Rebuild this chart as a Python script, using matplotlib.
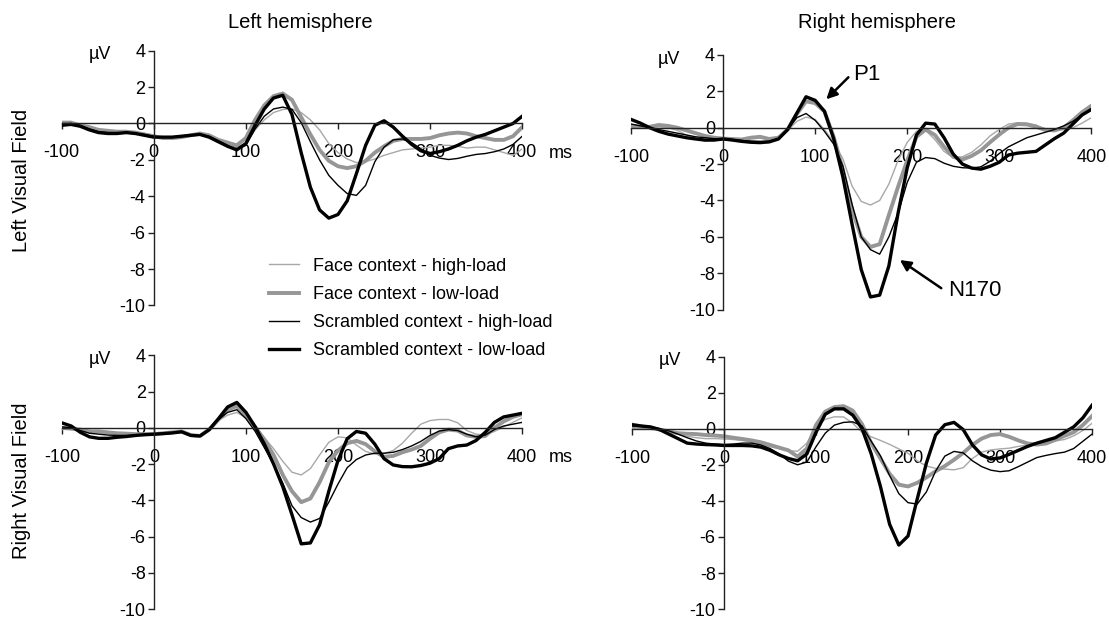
import matplotlib
matplotlib.use("Agg")
import matplotlib.pyplot as plt
from matplotlib.lines import Line2D

plt.rcParams["font.family"] = ["Liberation Sans", "DejaVu Sans"]
plt.rcParams["axes.unicode_minus"] = False

# Time axis (ms) and tick values
times = list(range(-100, 401, 10))
xticks = [-100, 0, 100, 200, 300, 400]
yticks = [-10, -8, -6, -4, -2, 0, 2, 4]

conditions = ["Face context - high-load", "Face context - low-load",
              "Scrambled context - high-load", "Scrambled context - low-load"]

# Left hemisphere, left visual field (uV)
lh_lvf_face_high = [0.0, 0.0, -0.1, -0.2, -0.4, -0.45, -0.5, -0.5, -0.55, -0.6, -0.7, -0.75, -0.75, -0.7, -0.65,
                    -0.6, -0.7, -0.9, -1.1, -1.3, -1.1, -0.35, 0.2, 0.6, 0.77, 0.8, 0.6, 0.2, -0.35, -1.1, -1.6,
                    -1.95, -2.15, -2.1, -1.95, -1.75, -1.6, -1.45, -1.4, -1.35, -1.3, -1.2, -1.2, -1.25, -1.35,
                    -1.3, -1.3, -1.45, -1.6, -1.75, -1.4]
lh_lvf_face_low = [0.05, 0.05, -0.1, -0.2, -0.35, -0.4, -0.45, -0.45, -0.5, -0.6, -0.7, -0.8, -0.8, -0.75, -0.65,
                   -0.55, -0.65, -0.9, -1.05, -1.2, -0.8, 0.2, 1.0, 1.5, 1.65, 1.3, 0.35, -0.6, -1.45, -2.05, -2.35,
                   -2.45, -2.35, -2.05, -1.6, -1.25, -0.95, -0.85, -0.85, -0.85, -0.8, -0.65, -0.55, -0.5, -0.55,
                   -0.7, -0.8, -0.9, -0.9, -0.7, -0.2]
lh_lvf_scr_high = [0.0, 0.0, -0.1, -0.3, -0.45, -0.5, -0.5, -0.5, -0.55, -0.6, -0.7, -0.75, -0.75, -0.7, -0.65,
                   -0.6, -0.7, -0.95, -1.2, -1.45, -1.2, -0.3, 0.4, 0.8, 0.9, 0.78, 0.05, -1.0, -2.0, -2.85, -3.4,
                   -3.85, -3.95, -3.4, -2.1, -1.3, -0.9, -0.85, -1.05, -1.4, -1.75, -1.9, -1.98, -1.92, -1.8,
                   -1.7, -1.65, -1.55, -1.4, -1.15, -0.7]
lh_lvf_scr_low = [-0.1, -0.05, -0.15, -0.35, -0.5, -0.55, -0.55, -0.5, -0.55, -0.65, -0.75, -0.75, -0.75, -0.7,
                  -0.65, -0.6, -0.75, -1.0, -1.25, -1.45, -1.1, -0.1, 0.8, 1.4, 1.55, 0.5, -1.6, -3.5, -4.75, -5.2,
                  -5.0, -4.25, -2.75, -1.2, -0.1, 0.15, -0.2, -0.7, -1.15, -1.5, -1.65, -1.55, -1.4, -1.2, -0.95,
                  -0.75, -0.6, -0.4, -0.2, 0.0, 0.4]

# Right hemisphere, left visual field
rh_lvf_face_high = [0.15, 0.1, 0.0, 0.05, 0.0, -0.15, -0.4, -0.6, -0.72, -0.7, -0.6, -0.65, -0.7, -0.7, -0.72,
                    -0.72, -0.6, -0.15, 0.35, 0.58, 0.45, -0.1, -0.8, -1.7, -3.2, -4.05, -4.25, -4.0, -3.1, -1.8,
                    -0.8, -0.2, -0.15, -0.65, -1.3, -1.65, -1.6, -1.35, -0.95, -0.45, -0.1, 0.2, 0.27, 0.25, 0.15,
                    -0.1, -0.15, -0.1, 0.0, 0.25, 0.55]
rh_lvf_face_low = [0.1, 0.05, 0.05, 0.15, 0.1, 0.0, -0.15, -0.3, -0.45, -0.55, -0.6, -0.62, -0.65, -0.55, -0.5,
                   -0.62, -0.55, -0.1, 0.75, 1.45, 1.35, 0.9, -0.5, -2.3, -4.5, -6.0, -6.55, -6.4, -4.8, -3.25,
                   -1.8, -0.5, -0.1, -0.4, -1.05, -1.6, -1.75, -1.55, -1.25, -0.8, -0.38, 0.0, 0.2, 0.18, 0.05,
                   -0.12, -0.15, 0.0, 0.4, 0.85, 1.2]
rh_lvf_scr_high = [0.2, 0.1, 0.0, -0.1, -0.2, -0.3, -0.4, -0.5, -0.55, -0.6, -0.6, -0.65, -0.7, -0.75, -0.78,
                   -0.75, -0.6, -0.1, 0.55, 0.78, 0.4, -0.2, -0.9, -2.1, -4.2, -6.0, -6.7, -6.95, -6.0, -4.7, -3.0,
                   -1.9, -1.64, -1.7, -1.95, -2.12, -2.2, -2.22, -2.15, -1.85, -1.42, -1.05, -0.8, -0.55, -0.4,
                   -0.25, -0.1, 0.1, 0.35, 0.7, 1.0]
rh_lvf_scr_low = [0.45, 0.25, 0.0, -0.2, -0.35, -0.45, -0.55, -0.62, -0.68, -0.68, -0.62, -0.68, -0.75, -0.8,
                  -0.82, -0.78, -0.62, -0.1, 0.8, 1.7, 1.5, 0.9, -0.6, -2.7, -5.3, -7.8, -9.3, -9.2, -7.6, -4.7,
                  -2.2, -0.4, 0.25, 0.2, -0.55, -1.45, -2.0, -2.22, -2.28, -2.12, -1.9, -1.5, -1.4, -1.35, -1.3,
                  -0.95, -0.6, -0.3, 0.2, 0.7, 1.0]

# Left hemisphere, right visual field
lh_rvf_face_high = [-0.1, -0.05, -0.1, -0.15, -0.2, -0.25, -0.3, -0.35, -0.38, -0.38, -0.37, -0.33, -0.28, -0.22,
                    -0.38, -0.42, -0.1, 0.4, 0.7, 0.85, 0.55, -0.05, -0.55, -1.15, -1.85, -2.45, -2.6, -2.25, -1.5,
                    -0.8, -0.5, -0.55, -0.95, -1.3, -1.45, -1.42, -1.25, -0.85, -0.3, 0.2, 0.4, 0.46, 0.46, 0.28,
                    -0.15, -0.35, -0.4, -0.2, 0.05, 0.3, 0.55]
lh_rvf_face_low = [0.0, -0.05, -0.1, -0.2, -0.2, -0.25, -0.3, -0.32, -0.35, -0.35, -0.35, -0.3, -0.25, -0.2, -0.4,
                   -0.45, -0.1, 0.45, 1.0, 1.2, 0.7, 0.05, -0.65, -1.5, -2.6, -3.5, -4.1, -3.9, -3.0, -1.9, -1.25,
                   -0.85, -0.72, -0.9, -1.3, -1.6, -1.55, -1.35, -1.2, -1.0, -0.6, -0.25, -0.1, -0.15, -0.42, -0.5,
                   -0.45, 0.0, 0.35, 0.6, 0.75]
lh_rvf_scr_high = [0.05, 0.0, -0.15, -0.3, -0.35, -0.4, -0.42, -0.42, -0.4, -0.37, -0.37, -0.35, -0.3, -0.22, -0.4,
                   -0.45, -0.1, 0.45, 0.85, 1.0, 0.5, -0.2, -1.1, -2.0, -3.05, -4.3, -4.95, -5.2, -5.0, -4.1, -3.1,
                   -2.2, -1.75, -1.5, -1.4, -1.4, -1.35, -1.2, -1.0, -0.75, -0.42, -0.18, -0.1, -0.15, -0.35, -0.5,
                   -0.4, -0.1, 0.1, 0.2, 0.3]
lh_rvf_scr_low = [0.27, 0.1, -0.25, -0.5, -0.58, -0.58, -0.52, -0.48, -0.42, -0.38, -0.35, -0.32, -0.28, -0.22,
                  -0.42, -0.45, -0.1, 0.5, 1.15, 1.4, 0.85, 0.05, -0.9, -2.0, -3.25, -4.8, -6.4, -6.35, -5.35, -3.5,
                  -1.8, -0.6, -0.2, -0.3, -0.9, -1.7, -2.05, -2.14, -2.15, -2.08, -1.95, -1.7, -1.15, -1.0, -0.95,
                  -0.7, -0.25, 0.3, 0.6, 0.7, 0.8]

# Right hemisphere, right visual field
rh_rvf_face_high = [0.3, 0.2, 0.1, 0.0, -0.15, -0.3, -0.42, -0.5, -0.55, -0.55, -0.57, -0.6, -0.65, -0.75, -0.88,
                    -1.0, -1.1, -1.22, -1.25, -0.8, 0.1, 0.52, 0.66, 0.65, 0.3, -0.2, -0.45, -0.65, -0.87, -1.12,
                    -1.36, -1.78, -2.07, -2.2, -2.24, -2.28, -2.16, -1.65, -1.3, -1.18, -1.12, -1.08, -0.98, -0.9,
                    -0.8, -0.75, -0.68, -0.6, -0.4, -0.1, 0.3]
rh_rvf_face_low = [0.1, 0.1, 0.05, -0.05, -0.15, -0.25, -0.28, -0.3, -0.35, -0.38, -0.42, -0.5, -0.57, -0.65, -0.75,
                   -0.9, -1.05, -1.2, -1.55, -1.1, 0.2, 0.95, 1.2, 1.25, 1.0, 0.25, -0.8, -1.65, -2.5, -3.1, -3.2,
                   -3.0, -2.7, -2.36, -2.07, -1.72, -1.34, -0.9, -0.55, -0.35, -0.3, -0.45, -0.65, -0.82, -0.88,
                   -0.82, -0.62, -0.4, -0.2, 0.2, 0.7]
rh_rvf_scr_high = [0.15, 0.15, 0.1, 0.0, -0.12, -0.3, -0.5, -0.68, -0.8, -0.85, -0.88, -0.85, -0.8, -0.8, -0.9,
                   -1.1, -1.4, -1.8, -2.0, -1.85, -1.0, -0.25, 0.2, 0.35, 0.38, 0.15, -0.7, -1.5, -2.6, -3.6, -4.1,
                   -4.18, -3.5, -2.35, -1.52, -1.26, -1.34, -1.78, -2.1, -2.3, -2.38, -2.33, -2.1, -1.85, -1.6,
                   -1.48, -1.38, -1.3, -1.1, -0.7, -0.3]
rh_rvf_scr_low = [0.22, 0.15, 0.1, -0.05, -0.3, -0.55, -0.8, -0.85, -0.88, -0.9, -0.93, -0.93, -0.93, -0.95, -1.02,
                  -1.2, -1.45, -1.65, -1.78, -1.4, -0.2, 0.8, 1.1, 1.1, 0.75, 0.0, -1.4, -3.2, -5.3, -6.45, -5.95,
                  -3.9, -1.9, -0.35, 0.22, 0.35, -0.05, -0.9, -1.45, -1.68, -1.62, -1.42, -1.2, -0.98, -0.8, -0.65,
                  -0.5, -0.2, 0.1, 0.6, 1.3]

# line styles: face high, face low, scrambled high, scrambled low
styles = [dict(color="#a8a8a8", lw=1.0), dict(color="#969696", lw=2.8),
          dict(color="black", lw=1.0), dict(color="black", lw=2.4)]


def setup(ax, show_ms):
    ax.set_xlim(-100, 400)
    ax.set_ylim(-10, 4)
    ax.set_facecolor("none")
    ax.spines["left"].set_position(("data", 0))
    ax.spines["bottom"].set_position(("data", 0))
    ax.spines["top"].set_visible(False)
    ax.spines["right"].set_visible(False)
    for s in ["left", "bottom"]:
        ax.spines[s].set_linewidth(1.0)
        ax.spines[s].set_color("#222222")
    ax.set_xticks(xticks)
    ax.set_yticks(yticks)
    ax.tick_params(axis="x", direction="out", length=4, width=1.0, pad=11, labelsize=13, color="#222222")
    ax.tick_params(axis="y", direction="out", length=4, width=1.0, pad=2, labelsize=13, color="#222222")
    ax.annotate("µV", xy=(0, 4), xytext=(-31, -3), textcoords="offset points",
                ha="right", va="center", fontsize=13)
    if show_ms:
        ax.annotate("ms", xy=(400, 0), xytext=(19, -21.6), textcoords="offset points",
                    ha="left", va="center", fontsize=13)


fig = plt.figure(figsize=(11.09, 6.19), dpi=100)

panels = [
    ([0.0556, 0.5065, 0.4153, 0.4116], [lh_lvf_face_high, lh_lvf_face_low, lh_lvf_scr_high, lh_lvf_scr_low], True),
    ([0.5692, 0.4997, 0.4148, 0.4116], [rh_lvf_face_high, rh_lvf_face_low, rh_lvf_scr_high, rh_lvf_scr_low], False),
    ([0.0559, 0.0160, 0.4148, 0.4100], [lh_rvf_face_high, lh_rvf_face_low, lh_rvf_scr_high, lh_rvf_scr_low], True),
    ([0.5699, 0.0160, 0.4148, 0.4080], [rh_rvf_face_high, rh_rvf_face_low, rh_rvf_scr_high, rh_rvf_scr_low], False),
]

axes = []
for rect, series, show_ms in panels:
    ax = fig.add_axes(rect)
    setup(ax, show_ms)
    for vals, st in zip(series, styles):
        ax.plot(times, vals, solid_joinstyle="round", **st)
    axes.append(ax)

# P1 and N170 markers on the right hemisphere / left field panel
ax = axes[1]
arrow = dict(arrowstyle="-|>", color="black", lw=1.8, mutation_scale=16, shrinkA=0, shrinkB=0)
ax.annotate("", xy=(112, 1.56), xytext=(136, 2.77), arrowprops=arrow)
ax.text(141, 2.95, "P1", fontsize=16, ha="left", va="center")
ax.annotate("", xy=(192, -7.27), xytext=(237, -8.82), arrowprops=arrow)
ax.text(244, -8.97, "N170", fontsize=16, ha="left", va="center")

# column and row titles
fig.text(300 / 1109, 1 - 22.7 / 619, "Left hemisphere", ha="center", va="center", fontsize=14.5)
fig.text(877 / 1109, 1 - 22.7 / 619, "Right hemisphere", ha="center", va="center", fontsize=14.5)
fig.text(22 / 1109, 1 - 180 / 619, "Left Visual Field", rotation=90, ha="center", va="center", fontsize=14.5)
fig.text(22 / 1109, 1 - 481 / 619, "Right Visual Field", rotation=90, ha="center", va="center", fontsize=14.5)

# legend
handles = [Line2D([], [], **st) for st in styles]
fig.legend(handles, conditions, loc="center left", bbox_to_anchor=(269 / 1109, 1 - 308.5 / 619),
           frameon=False, fontsize=13, handlelength=1.67, handletextpad=0.75, labelspacing=0.62,
           borderpad=0, borderaxespad=0)

fig.savefig("out.png", dpi=100)
